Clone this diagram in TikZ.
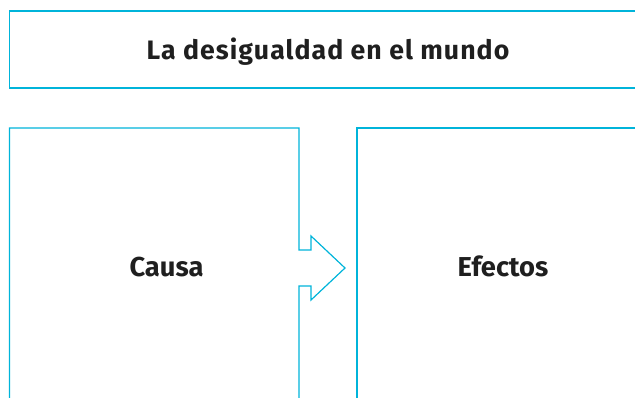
\documentclass[tikz,border=0pt]{standalone}
\usepackage{fontspec}
\setmainfont{Fira Sans}
\usepackage{tikz}

\definecolor{cian}{RGB}{0,180,218}

\begin{document}
\begin{tikzpicture}[x=0.75pt,y=-0.75pt,
	caja/.style={draw=cian,line width=0.9pt},
	titulo/.style={anchor=base,font=\bfseries\fontsize{20}{24}\selectfont\addfontfeature{LetterSpace=4},text=black!88},
	rotulo/.style={anchor=base,font=\bfseries\fontsize{20.5}{24}\selectfont,text=black!88}]

		\useasboundingbox (0,0) rectangle (635,397);

		\node[titulo] (t) at (328,59) {La desigualdad en el mundo};
		\node[rotulo] (causa) at (166.5,276) {Causa};
		\node[rotulo] (efectos) at (503,276) {Efectos};

		% caja del titulo
		\draw[caja] (640,11) -- (9.5,11) -- (9.5,88) -- (640,88);

		% caja de la causa con la flecha
		\draw[caja] (9.5,400) -- (9.5,128) -- (299,128) -- (299,250)
			-- (311,250) -- (311,236) -- (345,268) -- (311,300)
			-- (311,286) -- (299,286) -- (299,400);

		% caja de los efectos
		\draw[caja] (357,400) -- (357,128) -- (640,128);
	\end{tikzpicture}
\end{document}
